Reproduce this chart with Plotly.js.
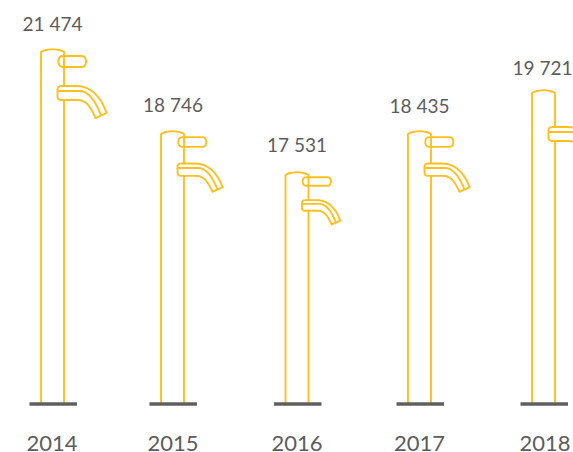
<!DOCTYPE html>
<html><head><meta charset="utf-8">
<script src="https://cdn.plot.ly/plotly-3.0.1.min.js"></script>
<style>html,body{margin:0;padding:0;background:#fff}#c{width:573px;height:452px}</style>
</head><body><div id="c"></div>
<script>
// Data
const years = ['2014','2015','2016','2017','2018'];
const valueLabels = ['21 474','18 746','17 531','18 435','19 721'];
// Drawn faucet heights (the icon heights in the source are stepped, not proportional)
const drawnHeights = [355, 273, 232, 273, 314];
// Layout / glyph styling
const centers = [52.5, 172.5, 297, 419.5, 543.5];
const tickCenters = [52, 173, 297, 419.5, 545];
const glyphScale = [1, 0.92, 0.78, 0.92, 1];
const vertScale = [1, 0.88, 0.76, 0.88, 1];
const hasHandle = [true, true, true, true, false];
const labelGap = [23, 24, 25, 23, 20];
const labelNudge = [0, 0.5, 0, 0, -1];

const YEL = '#FFC01F', GREY = '#5F5F5F';
const FONT = 'Lato, "Open Sans", sans-serif';
const LW = 1.9;

function bez(p0,p1,p2,p3,n){const o=[];for(let i=1;i<=n;i++){const t=i/n,u=1-t;
  o.push([u*u*u*p0[0]+3*u*u*t*p1[0]+3*u*t*t*p2[0]+t*t*t*p3[0],
          u*u*u*p0[1]+3*u*u*t*p1[1]+3*u*t*t*p2[1]+t*t*t*p3[1]]);}return o;}
const spoutOuter = [[3,0],[19,0],...bez([19,0],[34,0],[44,12],[49,27],14),[38,32],
  ...bez([38,32],[33,21],[29,14],[20,14],10),[3,14],[0.8,13],[0,11],[0,3],[0.8,1],[3,0]];
const spoutMid = [[0,5],[22,5],...bez([22,5],[31,5],[38,15],[43.5,29.5],10)];

const traces = [];
function add(pts,color,width){traces.push({type:'scatter',mode:'lines',x:pts.map(p=>p[0]),y:pts.map(p=>p[1]),
  line:{color:color,width:width,simplify:false},hoverinfo:'skip',showlegend:false});}

years.forEach((yr,i)=>{
  const cx=centers[i],h=drawnHeights[i],s=glyphScale[i],v=vertScale[i];
  const L=cx-11.5,R=cx+11.5;
  const spoutTop=h-37*v;
  const spoutBot=spoutTop-14*v;
  add([[L,0],[L,h-3],...bez([L,h-3],[cx-6,h+0.6],[cx+6,h+0.6],[R,h-3],12),[R,spoutTop]],YEL,LW);
  add([[R,spoutBot],[R,0]],YEL,LW);
  if(hasHandle[i]){
    const t=h-7*v,hh=11*v,x0=R-7,x1=R+23.5,r=hh/2;
    const rr=[[x0+r,t],[x1-r,t],...bez([x1-r,t],[x1,t],[x1,t-hh],[x1-r,t-hh],8),[x0+r,t-hh],...bez([x0+r,t-hh],[x0,t-hh],[x0,t],[x0+r,t],8)];
    add(rr,YEL,LW);
  }
  const tr=p=>[R-6.5+p[0]*s, spoutTop-p[1]*v];
  add(spoutOuter.map(tr),YEL,LW);
  add(spoutMid.map(tr),YEL,LW);
  add([[cx-23,0],[cx+24.5,0]],GREY,3.4);
});
traces.push({type:'scatter',mode:'text',x:centers.map((c,i)=>c+labelNudge[i]),y:drawnHeights.map((h,i)=>h+labelGap[i]),text:valueLabels,
  textposition:'middle center',textfont:{family:FONT,size:19,color:'#5C5C5C'},cliponaxis:false,hoverinfo:'skip',showlegend:false});

Plotly.newPlot('c',traces,{
  width:573,height:452,margin:{l:0,r:0,t:0,b:40},
  paper_bgcolor:'#fff',plot_bgcolor:'#fff',showlegend:false,
  xaxis:{range:[0,573],fixedrange:true,showgrid:false,zeroline:false,showline:false,
    tickmode:'array',tickvals:tickCenters,ticktext:years,ticks:'outside',ticklen:12,tickcolor:'rgba(0,0,0,0)',
    tickfont:{family:FONT,size:22,color:'#5C5C5C'}},
  yaxis:{range:[-8,404],fixedrange:true,showgrid:false,zeroline:false,showline:false,showticklabels:false,ticks:''}
},{displayModeBar:false,staticPlot:true});
</script></body></html>
